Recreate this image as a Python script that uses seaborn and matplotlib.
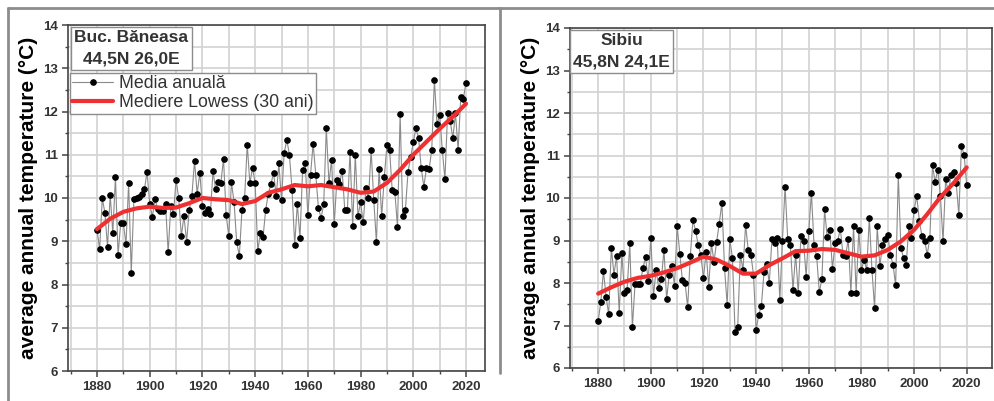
import pandas as pd
import matplotlib.pyplot as plt
import seaborn as sns
from matplotlib.lines import Line2D
from matplotlib.ticker import MultipleLocator

# Annual mean temperature (deg C), 1880-2020
years = list(range(1880, 2021))

baneasa = [
    9.27, 8.81, 9.99, 9.66, 8.87, 10.08, 9.19, 10.49, 8.68, 9.43,
    9.42, 8.93, 10.35, 8.27, 9.97, 10.0, 10.03, 10.1, 10.2, 10.6,
    9.87, 9.56, 9.97, 9.75, 9.69, 9.69, 9.87, 8.74, 9.82, 9.63,
    10.42, 10.0, 9.12, 9.58, 8.99, 9.73, 10.05, 10.86, 10.1, 10.58,
    9.82, 9.65, 9.75, 9.62, 10.62, 10.2, 10.37, 10.35, 10.91, 9.6,
    9.12, 10.37, 9.9, 8.98, 8.66, 9.72, 10.0, 11.23, 10.34, 10.7,
    10.34, 8.77, 9.2, 9.1, 9.73, 10.1, 10.33, 10.58, 10.04, 10.8,
    9.95, 11.03, 11.35, 11.0, 10.19, 8.91, 9.87, 9.07, 10.64, 10.8,
    9.6, 10.53, 11.26, 10.54, 9.77, 9.54, 9.85, 11.61, 10.35, 10.88,
    9.39, 10.41, 10.33, 10.63, 9.73, 9.73, 11.07, 9.35, 11.0, 9.58,
    9.9, 9.44, 10.22, 10.0, 11.11, 9.95, 8.98, 10.68, 9.58, 10.49,
    11.22, 11.11, 10.18, 10.14, 9.33, 11.94, 9.58, 9.72, 10.61, 10.95,
    11.3, 11.62, 11.38, 10.7, 10.26, 10.7, 10.66, 11.12, 12.73, 11.7,
    11.92, 11.11, 10.43, 11.96, 11.78, 11.38, 11.96, 11.11, 12.34, 12.3,
    12.67,
]

sibiu = [
    7.11, 7.55, 8.28, 7.68, 7.26, 8.83, 8.2, 8.64, 7.3, 8.7,
    7.76, 7.84, 8.93, 6.96, 7.97, 7.97, 7.98, 8.35, 8.61, 8.05,
    9.07, 7.69, 8.31, 7.88, 8.09, 8.78, 7.62, 8.2, 8.4, 7.94,
    9.34, 8.69, 8.06, 8.0, 7.43, 8.64, 9.48, 9.23, 8.9, 8.66,
    8.11, 8.74, 7.91, 8.93, 8.5, 8.97, 9.4, 9.89, 8.35, 7.49,
    9.03, 8.59, 6.84, 6.96, 8.67, 8.3, 9.37, 8.77, 8.67, 8.2,
    6.9, 7.25, 7.47, 8.25, 8.45, 8.0, 9.03, 8.94, 9.06, 7.6,
    9.0, 10.27, 9.03, 8.9, 7.84, 8.67, 7.76, 9.1, 9.0, 8.15,
    9.22, 10.12, 8.9, 8.63, 7.78, 8.1, 9.73, 9.08, 9.25, 8.33,
    8.94, 9.0, 9.27, 8.67, 8.64, 9.03, 7.76, 9.33, 7.76, 9.25,
    8.31, 8.55, 8.3, 9.53, 8.3, 7.41, 9.33, 8.39, 8.9, 9.03,
    9.14, 8.67, 8.43, 7.95, 10.55, 8.82, 8.59, 8.43, 9.33, 9.06,
    9.71, 10.05, 9.47, 9.1, 9.0, 8.67, 9.06, 10.77, 10.37, 10.67,
    10.05, 8.98, 10.45, 10.12, 10.53, 10.61, 10.35, 9.61, 11.22, 11.02,
    10.31,
]

# Lowess curve (30 yr), read every 5 years
lowess_years = list(range(1880, 2021, 5))
baneasa_lowess = [9.28, 9.52, 9.68, 9.76, 9.8, 9.77, 9.78, 9.88, 10.0, 9.97,
                  9.95, 9.86, 9.93, 10.12, 10.2, 10.3, 10.27, 10.3, 10.25, 10.2,
                  10.12, 10.15, 10.35, 10.65, 11.0, 11.3, 11.6, 11.88, 12.18]
sibiu_lowess = [7.75, 7.9, 8.03, 8.12, 8.17, 8.25, 8.35, 8.48, 8.62, 8.55,
                8.4, 8.22, 8.22, 8.42, 8.58, 8.75, 8.76, 8.8, 8.78, 8.7,
                8.62, 8.65, 8.78, 8.98, 9.25, 9.62, 10.02, 10.35, 10.72]

sns.set_style('ticks')
plt.rcParams['font.family'] = ['Liberation Sans', 'DejaVu Sans']

TXT = '#333333'


def draw_panel(ax, temps, smooth, station, xlim, box_xy):
    df = pd.DataFrame({'an': years, 'temp': temps})
    sm = pd.DataFrame({'an': lowess_years, 'temp': smooth})
    sns.lineplot(data=df, x='an', y='temp', ax=ax, color='#8a8a8a', linewidth=0.8,
                 marker='o', markersize=4, markerfacecolor='black',
                 markeredgecolor='black', label='Media anuală')
    sns.lineplot(data=sm, x='an', y='temp', ax=ax, color='#ee3030', linewidth=3,
                 label='Mediere Lowess (30 ani)')
    ax.set_xlim(*xlim)
    ax.set_ylim(6, 14)
    ax.xaxis.set_major_locator(MultipleLocator(20))
    ax.xaxis.set_minor_locator(MultipleLocator(10))
    ax.yaxis.set_major_locator(MultipleLocator(1))
    ax.yaxis.set_minor_locator(MultipleLocator(0.5))
    ax.grid(which='both', color='#d2d2d2', linewidth=1.2)
    ax.set_axisbelow(True)
    ax.tick_params(which='major', direction='out', length=4, width=1.1,
                   labelsize=9.5, labelcolor=TXT, color='#444444', pad=3)
    ax.tick_params(which='minor', direction='out', length=2, width=1, color='#444444')
    for lab in ax.get_xticklabels() + ax.get_yticklabels():
        lab.set_fontweight('bold')
    for sp in ax.spines.values():
        sp.set_color('#444444')
        sp.set_linewidth(1.2)
    ax.set_xlabel('')
    ax.set_ylabel('average annual temperature (°C)', fontsize=15,
                  fontweight='bold', color='black', labelpad=4)
    ax.text(box_xy[0], box_xy[1], station, transform=ax.transAxes, ha='center',
            va='top', fontsize=12.5, fontweight='bold', color=TXT, linespacing=1.5,
            bbox=dict(boxstyle='square,pad=0.2', fc='white', ec='#8c8c8c', lw=1))


fig = plt.figure(figsize=(9.95, 4.01), dpi=100)
ax1 = fig.add_axes([68 / 995, 30 / 401, 417 / 995, 346 / 401])
ax2 = fig.add_axes([570 / 995, 33 / 401, 422 / 995, 340 / 401])

draw_panel(ax1, baneasa, baneasa_lowess, 'Buc. Băneasa\n44,5N 26,0E',
           (1869.0, 2027.2), (0.152, 0.985))
draw_panel(ax2, sibiu, sibiu_lowess, 'Sibiu\n45,8N 24,1E',
           (1869.3, 2029.6), (0.122, 0.985))

ax1.legend(loc='upper left', bbox_to_anchor=(0.004, 0.862), frameon=True,
           fancybox=False, edgecolor='#8c8c8c', fontsize=12.8, handlelength=2.3,
           borderpad=0.15, labelspacing=0.1, handletextpad=0.3, borderaxespad=0,
           labelcolor=TXT, framealpha=1)
if ax2.get_legend() is not None:
    ax2.get_legend().remove()

# grey frame around the panels
frame = dict(transform=fig.transFigure, color='#8c8c8c', linewidth=2)
fig.add_artist(Line2D([8 / 995, 1], [1 - 8 / 401, 1 - 8 / 401], **frame))
fig.add_artist(Line2D([8 / 995, 8 / 995], [0, 1 - 8 / 401], **frame))
fig.add_artist(Line2D([500 / 995, 500 / 995], [1 - 373 / 401, 1 - 8 / 401], **frame))

fig.savefig('out.png', dpi=100)
